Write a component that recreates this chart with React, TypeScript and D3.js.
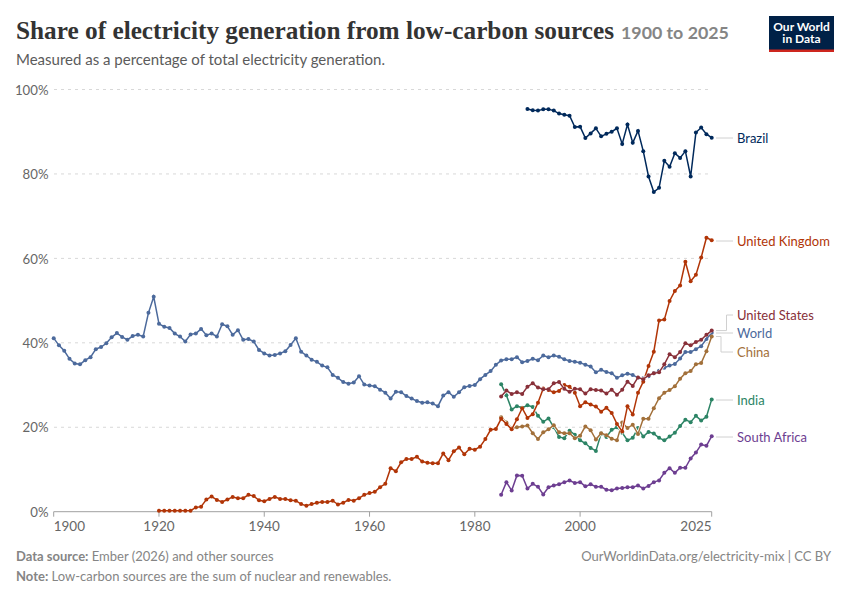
import * as d3 from 'd3';

// Low-carbon share of electricity, % of total generation
const worldValues = [
    41.1, 39.4, 38.1, 36.2, 35.1, 34.9, 35.9, 36.6, 38.5, 39, 39.9, 41.3, 42.3, 41.4, 40.7, 41.6, 41.9, 41.5, 47.1, 50.9,
    44.5, 43.8, 43.5, 42.2, 41.5, 40.3, 42, 42.2, 43.3, 41.8, 42.2, 41.5, 44.4, 43.9, 41.9, 43, 40.7, 40.9, 40.3, 38.3,
    37.5, 37, 37.1, 37.5, 38, 39.5, 41.1, 37.9, 37, 36, 35.5, 34.6, 34.2, 32.4, 31.7, 30.7, 30.3, 30.6, 32.1, 30.1,
    29.9, 29.7, 28.9, 28.2, 26.8, 28.4, 28.3, 27.4, 26.8, 26.2, 25.8, 25.9, 25.6, 25, 27.5, 28.3, 27.2, 28.3, 29.5, 29.8,
    30, 31.4, 32.4, 33.3, 34.8, 35.8, 36.1, 36.1, 36.6, 35.4, 35.7, 36.2, 35.9, 37, 36.6, 37, 36.7, 36.1, 35.7, 35.5,
    35.3, 34.8, 34.4, 33, 33.6, 33.1, 32.8, 31.7, 32.3, 32.7, 32.4, 31.7, 31.6, 32.1, 32.8, 33.4, 34.1, 34.6, 35, 36.3,
    37.8, 37.8, 38.5, 39.2, 40.9, 42.4,
];
const ukValues = [
    0.2, 0.2, 0.2, 0.2, 0.2, 0.2, 0.25, 1, 1.2, 2.9, 3.6, 2.8, 2.3, 2.9, 3.5, 3.2, 3.2, 4, 3.7, 2.7,
    2.5, 3, 3.5, 3, 3, 2.7, 2.6, 1.8, 1.4, 1.8, 2.1, 2.3, 2.3, 2.6, 1.7, 2.1, 2.8, 2.6, 3.2, 4,
    4.4, 4.7, 5.8, 6.6, 10.3, 9.6, 11.7, 12.5, 12.5, 13, 11.9, 11.6, 11.5, 11.5, 13.8, 12.2, 14.3, 15.2, 13.6, 14.9,
    14.7, 15.4, 17.2, 19.4, 19.6, 22, 20.8, 19.5, 21.9, 24.5, 22.2, 23.1, 25.8, 29.2, 28.8, 28.3, 28.6, 30, 29.6, 28.2,
    25, 25.9, 25.4, 24.9, 23.7, 24.6, 23.4, 20.8, 19, 25, 23, 28.2, 30.8, 34.5, 37.9, 45.3, 45.5, 49.9, 52.3, 53.6,
    59.2, 54.6, 56.1, 60.2, 64.9, 64.3,
];
const usValues = [
    27.3, 28.7, 27.9, 28.3, 27.9, 29.6, 30.4, 29.4, 29, 29, 30.4, 30.7, 29.1, 28.4, 29.1, 29, 28, 29, 28.8, 28.7,
    28, 28.9, 27.7, 28.9, 30.8, 29.8, 31.8, 31.4, 32.3, 32.8, 33, 34.9, 37.3, 36.6, 37.8, 39.9, 39.4, 40.2, 40.7, 41.9,
    42.9,
];
const chinaValues = [
    22.4, 21.1, 19.8, 20, 20.2, 20.4, 18.6, 17.2, 18.8, 19.5, 20.5, 18.8, 18.6, 18.6, 17.4, 18, 20.2, 19.3, 17.1, 18.6,
    18.1, 17.3, 16.9, 21.1, 19.8, 20.6, 18.4, 22, 22, 24.5, 26.9, 28.2, 28.8, 29.7, 31.5, 32.8, 33.3, 34.9, 35.2, 38,
    41.5,
];
const indiaValues = [
    30.2, 27.6, 24.2, 25, 24.6, 25.2, 24.8, 22.7, 21.3, 22.1, 20, 17.7, 17.4, 19.2, 18.2, 16.9, 16.2, 15.1, 14.4, 18.5,
    17.7, 19.4, 20, 18.7, 16.9, 17.5, 19.8, 17.8, 18.9, 18.5, 17.5, 16.9, 17.8, 18.7, 20.3, 21.8, 21.2, 22.7, 21.6, 22.5,
    26.6,
];
const southAfricaValues = [
    4, 7, 5, 8.6, 8.5, 5.5, 6.6, 5.9, 4.1, 5.8, 6.2, 6.5, 7, 7.4, 6.8, 7, 6, 6.5, 5.9, 5.9,
    5.2, 5.1, 5.5, 5.6, 5.8, 5.8, 6.2, 5.5, 6.1, 7, 7.4, 9.2, 10.3, 9.2, 10.4, 10.4, 12.6, 14, 15.9, 15.6,
    17.9,
];
const brazilValues = [
    95.4, 95.1, 95, 95.3, 95.3, 95, 94.3, 94, 93.8, 91.1, 91.2, 88.5, 89.6, 90.8, 88.9, 89.5, 90, 90.8, 87.1, 91.7,
    87.4, 90.2, 85.4, 79.4, 75.7, 76.7, 83.1, 81.7, 84.9, 83.8, 85.4, 79.4, 89.8, 91, 89.4, 88.6,
];

const yTicks = [0, 20, 40, 60, 80, 100];
const xTicks = [1900, 1920, 1940, 1960, 1980, 2000, 2025];

const series = [
    { name: 'Brazil', start: 1990, values: brazilValues, color: '#00295B', labelY: 138 },
    { name: 'World', start: 1900, values: worldValues, color: '#4C6A9C', labelY: 333 },
    { name: 'India', start: 1985, values: indiaValues, color: '#2C8465', labelY: 400 },
    { name: 'China', start: 1985, values: chinaValues, color: '#A2703A', labelY: 352 },
    { name: 'United Kingdom', start: 1920, values: ukValues, color: '#B13507', labelY: 241 },
    { name: 'United States', start: 1985, values: usValues, color: '#883039', labelY: 315 },
    { name: 'South Africa', start: 1985, values: southAfricaValues, color: '#6D3E91', labelY: 437 },
];

const sans = 'Lato, "Noto Sans", sans-serif';
const x = d3.scaleLinear().domain([1900, 2025]).range([53.7, 711.7]);
const y = d3.scaleLinear().domain([0, 100]).range([511.7, 89.5]);

function connector(name: string, endY: number, labelY: number) {
    // OWID style elbow from the line end to its label
    if (name === 'United States') return `M716,${endY}H726.5V${labelY}H733`;
    if (name === 'China') return `M716,${endY}H721V${labelY}H733`;
    return `M716,${labelY}H733`;
}

export default function App() {
    return (
        <svg
            width={850}
            height={600}
            viewBox="0 0 850 600"
            style={{ position: 'absolute', left: 0, top: 0, background: '#fff' }}
            fontFamily={sans}
        >
            <text
                x={16}
                y={39}
                fontFamily='"Liberation Serif", serif'
                fontWeight={700}
                fontSize={26}
                fill="#333"
                textLength={598}
                lengthAdjust="spacingAndGlyphs"
            >
                Share of electricity generation from low-carbon sources
            </text>
            <text x={621} y={38.5} fontSize={17.8} fontWeight={700} fill="#858585">
                1900 to 2025
            </text>
            <text x={16} y={65} fontSize={15} fill="#5b5b5b">
                Measured as a percentage of total electricity generation.
            </text>

            <rect x={769} y={16} width={65} height={36} fill="#002147" />
            <rect x={769} y={49.5} width={65} height={2.5} fill="#CE261E" />
            <text textAnchor="middle" fontSize={12} fontWeight={700} fill="#fff">
                <tspan x={801.5} y={30.7}>
                    Our World
                </tspan>
                <tspan x={801.5} y={42.7}>
                    in Data
                </tspan>
            </text>

            {yTicks.map((t) => (
                <g key={t}>
                    {t > 0 && (
                        <line x1={54} x2={712} y1={y(t)} y2={y(t)} stroke="#d8d8d8" strokeDasharray="3,4" />
                    )}
                    <text x={48.5} y={y(t) + 0.5} dy="0.35em" textAnchor="end" fontSize={13.2} fill="#666">
                        {t}%
                    </text>
                </g>
            ))}

            <line x1={53.7} x2={711.7} y1={y(0)} y2={y(0)} stroke="#a1a1a1" />
            {xTicks.map((t) => (
                <g key={t}>
                    <line x1={x(t)} x2={x(t)} y1={y(0)} y2={y(0) + 5} stroke="#a1a1a1" />
                    <text
                        x={x(t)}
                        y={526}
                        dy="0.35em"
                        textAnchor={t === 1900 ? 'start' : t === 2025 ? 'end' : 'middle'}
                        fontSize={13.5}
                        fill="#666"
                    >
                        {t}
                    </text>
                </g>
            ))}

            {series.map((s) => {
                const line = d3
                    .line<number>()
                    .x((_, i) => x(s.start + i))
                    .y((v) => y(v));
                return (
                    <g key={s.name}>
                        <path d={line(s.values) ?? ''} fill="none" stroke="#fff" strokeWidth={3} />
                        <path d={line(s.values) ?? ''} fill="none" stroke={s.color} strokeWidth={1.5} />
                        {s.values.map((v, i) => (
                            <circle key={i} cx={x(s.start + i)} cy={y(v)} r={2} fill={s.color} />
                        ))}
                    </g>
                );
            })}

            {series.map((s) => (
                <g key={s.name}>
                    <path
                        d={connector(s.name, y(s.values[s.values.length - 1]), s.labelY)}
                        fill="none"
                        stroke="#d0d0d0"
                    />
                    <text x={737} y={s.labelY} dy="0.35em" fontSize={13} fill={s.color}>
                        {s.name}
                    </text>
                </g>
            ))}

            <text x={16} y={560.5} fontSize={13} fill="#858585">
                <tspan fontWeight={700}>Data source:</tspan> Ember (2026) and other sources
            </text>
            <text x={16} y={580.5} fontSize={13} fill="#858585">
                <tspan fontWeight={700}>Note:</tspan> Low-carbon sources are the sum of nuclear and renewables.
            </text>
            <text x={831} y={560.5} textAnchor="end" fontSize={13} fill="#858585">
                OurWorldinData.org/electricity-mix | CC BY
            </text>
        </svg>
    );
}
